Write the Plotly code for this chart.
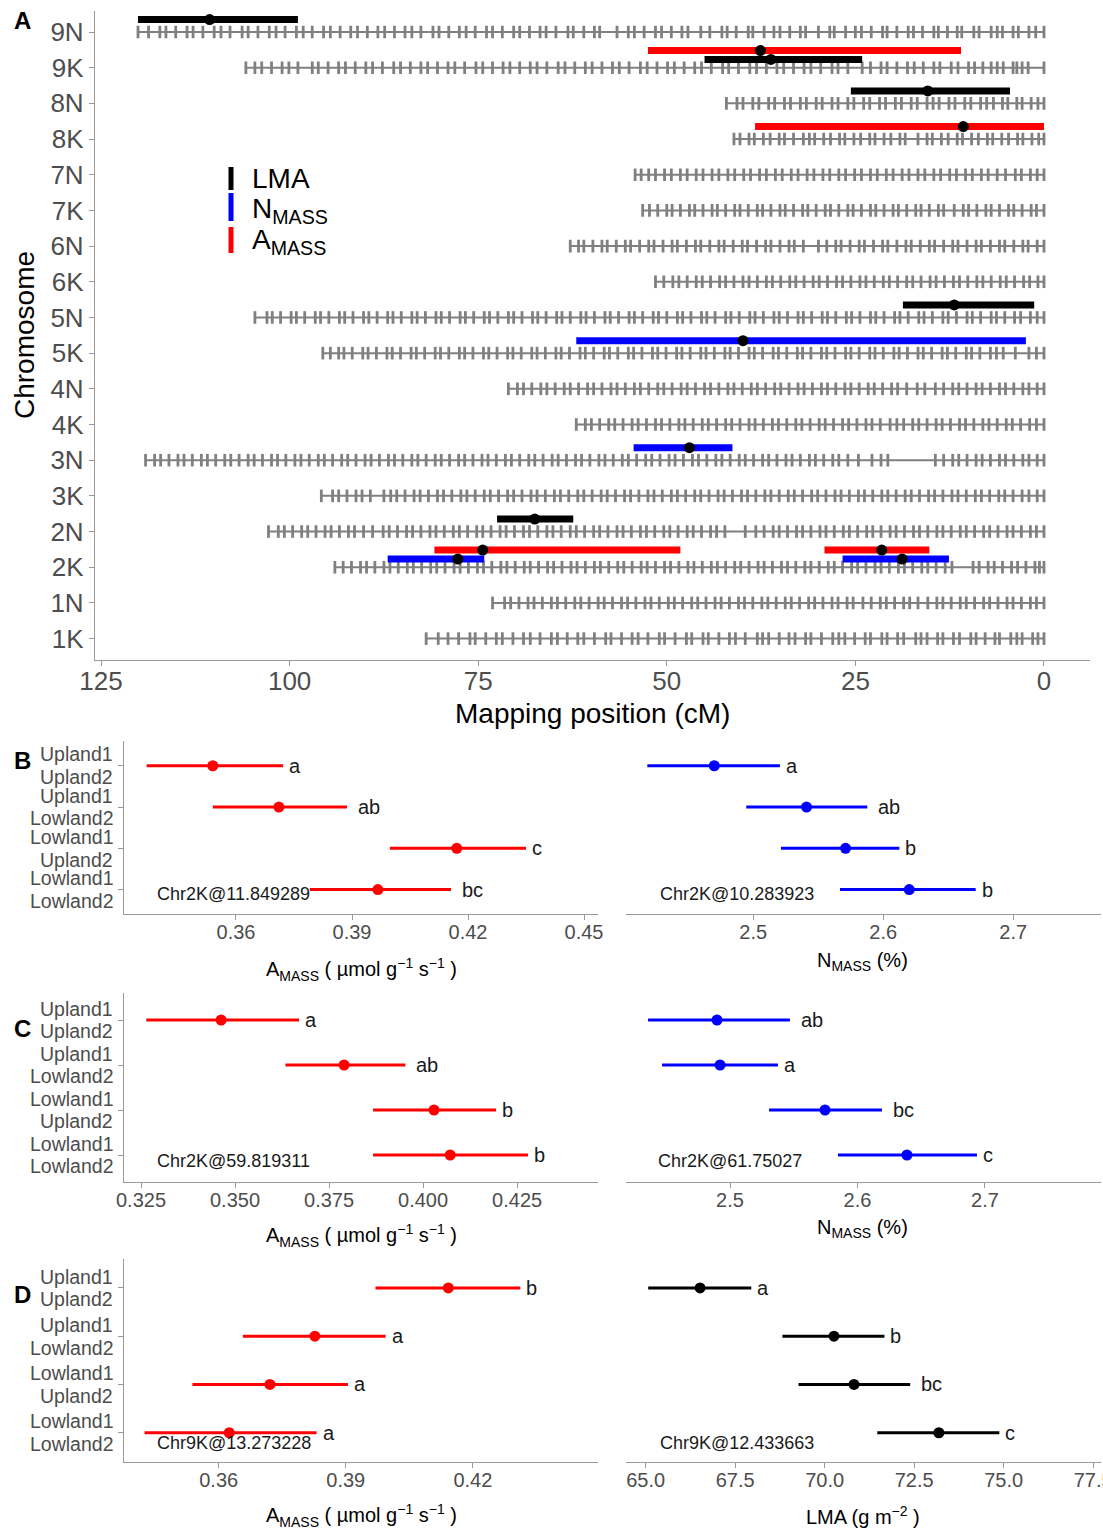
import plotly.graph_objects as go

W, H = 1103, 1533
def px(x): return x / W
def py(y): return 1 - y / H

FONT = "Liberation Sans, Arial, sans-serif"
TICK_COL = "#4D4D4D"
AXIS_COL = "#9A9A9A"
GRAY = "#808080"

# ---------------- Panel A data ----------------
chrom_names = ["1K","1N","2K","2N","3K","3N","4K","4N","5K","5N","6K","6N","7K","7N","8K","8N","9K","9N"]
chrom_len = [81.9, 73.1, 94.0, 102.8, 95.8, 119.1, 62.0, 71.0, 95.6, 104.6, 51.5, 62.8, 53.2, 54.2, 41.1, 42.1, 105.8, 120.1]

m_1K = [0,0.8,1.5,2.9,3.6,4.4,5.9,6.5,7.8,9.0,9.7,11.2,12.0,13.4,14.1,15.5,16.3,17.0,18.6,19.4,20.8,21.5,23.0,23.7,25.1,26.4,27.2,28.0,29.5,30.9,31.6,33.0,33.8,35.1,36.5,37.3,38.0,39.6,40.9,41.7,43.1,44.5,45.2,46.7,47.4,48.9,50.3,51.0,52.5,53.8,54.6,56.0,57.4,58.1,59.6,61.0,61.8,63.2,64.5,65.3,66.8,68.1,69.0,70.4,71.8,72.6,74.0,75.4,76.1,77.6,79.0,80.3,81.9]
m_1N = [0,1.0,1.8,3.0,4.1,4.9,6.1,7.2,8.0,9.2,10.3,11.1,12.3,13.4,14.2,15.4,16.7,17.8,18.6,19.8,20.9,21.7,22.9,24.0,25.3,26.1,27.3,28.1,29.3,30.4,31.2,32.4,33.5,34.3,35.5,36.6,37.4,38.6,39.7,40.5,41.7,42.8,43.6,44.8,45.9,46.7,47.9,49.0,49.8,51.0,52.1,52.9,54.1,55.2,56.0,57.2,58.3,59.1,60.3,61.4,62.2,63.4,64.5,65.3,66.5,67.6,68.4,69.6,70.7,71.5,73.1]
m_2K = [0,0.6,1.2,2.4,3.5,4.3,5.5,6.6,7.4,8.6,9.4,12.2,13.1,14.3,15.4,16.2,17.4,18.5,19.3,20.5,21.6,22.4,23.6,24.7,25.5,26.7,27.8,28.6,29.8,30.9,31.7,32.9,34.0,34.8,36.0,37.1,37.9,39.1,40.2,41.0,42.2,43.3,44.1,45.3,46.4,47.2,48.4,49.5,50.3,51.5,52.6,53.4,54.6,55.7,56.5,57.7,58.8,59.6,60.8,61.9,62.7,63.9,65.0,65.8,67.0,68.1,68.9,70.1,71.2,72.0,73.2,74.3,75.1,76.3,77.4,78.2,79.4,80.5,81.3,82.5,83.6,84.4,85.6,86.7,87.5,88.7,89.8,90.6,91.8,92.9,94.0]
m_2N = [0,1.0,1.8,3.0,4.1,4.9,6.1,7.2,8.0,9.2,10.3,11.1,12.3,13.4,14.2,15.4,16.5,17.3,18.5,19.6,20.4,21.6,22.7,23.5,24.7,25.8,26.6,27.8,28.9,29.7,30.9,32.0,32.8,34.0,35.1,35.9,37.1,38.2,39.6,42.3,43.4,44.2,45.4,46.5,47.3,48.5,49.6,50.4,51.6,52.7,53.5,54.7,55.8,56.6,57.8,58.9,59.7,60.9,62.0,62.8,64.0,65.1,65.9,67.1,68.2,69.0,70.2,71.3,72.1,73.3,74.4,75.2,76.4,77.5,78.3,79.5,80.6,81.4,82.6,83.7,84.5,85.7,86.8,87.6,89.0,90.2,91.4,92.2,93.4,94.5,95.3,96.5,97.6,98.4,99.6,100.7,101.5,102.8]
m_3K = [0,0.9,2.0,2.9,4.1,5.2,6.0,7.2,8.3,9.1,10.3,11.4,12.2,13.4,14.5,15.3,16.5,17.6,18.4,19.6,20.7,21.5,22.7,23.8,24.6,25.8,26.9,27.7,28.9,30.0,30.8,32.0,33.1,33.9,35.1,36.2,37.0,38.2,39.3,40.1,41.3,42.4,43.2,44.4,45.5,46.3,47.5,48.6,49.4,50.6,51.7,52.5,53.7,54.8,55.6,56.8,57.9,58.7,59.9,61.0,61.8,63.0,64.1,64.9,66.1,67.2,68.0,69.2,70.3,71.1,72.3,73.4,74.2,75.4,76.5,77.3,78.5,79.6,80.4,81.6,82.7,83.5,84.7,85.8,86.6,87.5,89.3,90.4,91.2,92.4,93.5,94.3,95.8]
m_3N = [0,0.9,2.0,2.8,4.0,5.1,5.9,7.1,8.2,9.0,10.2,11.3,12.1,13.3,14.4,20.7,21.6,22.8,24.6,26.0,27.2,28.0,29.2,30.3,31.1,32.3,33.4,34.2,35.4,36.5,37.3,38.5,39.6,40.4,41.6,42.7,43.5,44.7,45.8,46.6,47.8,48.9,49.7,50.9,52.0,52.8,54.0,55.1,55.9,57.1,58.2,59.0,60.2,61.3,62.1,63.3,64.4,65.2,66.4,67.5,68.3,69.5,70.6,71.4,72.6,73.7,74.5,75.7,76.8,77.6,78.8,79.9,80.7,81.9,83.0,83.8,85.0,86.1,86.9,88.1,89.2,90.0,91.2,92.3,93.1,94.3,95.4,96.2,97.4,98.5,99.3,100.5,101.6,102.4,103.6,104.7,105.5,106.7,107.8,108.6,109.8,110.9,111.7,112.9,114.0,114.8,116.0,117.1,117.9,119.1]
m_4K = [0,1.0,1.9,3.1,4.2,5.0,6.2,7.3,8.1,9.3,10.4,11.2,12.4,13.5,14.3,15.5,16.6,17.4,18.6,19.5,20.4,21.7,22.8,23.6,24.8,25.9,26.7,27.9,29.0,29.8,31.0,32.1,32.9,34.1,35.2,36.0,37.2,38.3,39.1,40.3,41.4,42.2,43.4,44.5,45.3,46.5,47.6,48.4,49.6,50.7,51.5,52.7,53.8,54.6,55.8,56.9,57.7,58.9,60.0,60.8,62.0]
m_4N = [0,0.9,2.0,2.8,4.0,5.1,5.9,7.1,8.2,9.0,10.2,11.3,12.1,13.3,14.4,15.8,16.8,18.2,19.4,20.2,21.4,22.5,23.3,24.5,25.6,26.4,27.6,28.7,29.5,30.7,31.8,32.6,33.8,34.9,35.7,36.9,38.0,38.8,40.0,41.1,41.9,43.1,44.2,45.0,46.2,47.3,48.1,49.3,50.4,51.2,52.4,53.5,54.3,55.5,56.6,57.4,58.6,59.7,60.5,61.7,62.8,63.6,64.8,65.9,66.7,67.9,69.0,69.8,71.0]
m_5K = [0,1.0,2.0,3.8,5.4,6.3,7.1,8.5,9.6,10.3,11.7,12.8,13.5,14.9,16.0,16.7,18.1,19.2,19.9,21.3,22.4,23.1,24.5,25.6,26.3,27.7,28.8,29.5,30.9,32.0,32.7,34.1,35.2,35.9,37.3,38.4,39.1,40.5,41.6,42.3,43.7,44.8,45.5,46.9,48.0,48.7,50.1,51.2,51.9,53.3,54.4,55.1,56.5,57.6,58.3,59.7,60.8,61.5,62.9,64.0,64.7,66.1,67.2,67.9,69.3,70.4,71.1,72.5,73.6,74.3,75.7,76.8,77.5,78.9,80.0,80.7,82.1,83.2,83.9,85.3,86.4,87.1,88.5,89.6,90.3,91.7,92.8,93.5,94.6,95.6]
m_5N = [0,0.9,1.8,3.1,3.9,5.2,6.3,7.0,8.4,9.5,10.2,11.6,12.7,13.4,14.8,15.9,16.6,18.0,19.1,19.8,21.2,22.3,23.0,24.4,25.5,26.2,27.6,28.7,29.4,30.8,31.9,32.6,34.0,35.1,35.8,37.2,38.3,39.0,40.4,41.5,42.2,43.6,44.7,45.4,46.8,47.9,48.6,50.0,51.1,51.8,53.2,54.3,55.0,56.4,57.5,58.2,59.6,60.7,61.4,62.8,63.9,64.6,66.0,67.1,67.8,69.2,70.3,71.0,72.4,73.5,74.2,75.6,76.7,77.4,78.8,79.9,80.6,82.0,83.1,83.8,85.2,86.3,87.0,88.4,89.5,90.2,91.6,92.7,93.4,94.8,95.9,96.6,98.0,99.1,99.8,101.2,102.3,103.0,104.6]
m_6K = [0,0.8,1.9,2.7,3.9,5.0,5.8,7.0,8.1,8.9,10.1,11.2,12.0,13.2,14.3,15.1,16.3,17.4,18.2,19.4,20.5,21.3,22.5,23.6,24.4,25.6,26.7,27.5,28.7,29.8,30.6,31.8,32.9,33.7,34.9,36.0,36.8,38.0,39.1,39.9,41.1,42.2,43.0,44.2,45.3,46.1,47.3,48.4,49.2,50.4,51.5]
m_6N = [0,0.9,2.1,2.8,4.0,5.2,5.9,7.1,8.3,9.0,10.2,11.4,12.1,13.3,14.5,15.2,16.4,17.6,18.3,19.5,20.7,21.4,22.6,23.8,24.5,25.7,26.9,27.6,28.8,29.9,31.9,33.1,33.8,35.0,36.2,36.9,38.1,39.3,40.0,41.2,42.4,43.1,44.3,45.5,46.2,47.4,48.6,49.3,50.5,51.7,52.4,53.6,54.8,55.5,56.7,57.9,58.6,59.8,61.0,61.7,62.8]
m_7K = [0,1.0,1.7,2.9,4.0,4.7,5.9,7.0,7.7,8.9,10.0,10.7,11.9,13.3,14.0,15.2,16.3,17.0,18.2,19.3,20.0,21.2,22.3,23.0,24.2,25.3,26.0,27.2,28.3,29.0,30.2,31.3,32.0,33.2,34.3,35.0,36.2,37.3,38.0,39.2,40.3,41.0,42.2,43.3,44.0,45.2,46.3,47.0,48.2,49.3,50.0,51.2,52.3,53.2]
m_7N = [0,0.9,1.8,3.0,3.8,5.1,6.2,7.4,8.3,9.5,10.4,11.6,12.5,13.7,14.6,15.8,16.7,17.9,18.8,20.0,20.9,22.1,23.0,24.2,25.1,26.3,27.2,28.4,29.3,30.5,31.4,32.6,33.5,34.7,35.6,36.8,37.7,38.9,39.8,41.0,41.9,43.1,44.0,45.2,46.1,47.3,48.2,49.4,50.3,51.5,52.4,53.4,54.2]
m_8K = [0,0.7,1.6,2.8,3.5,4.7,5.6,6.8,7.5,8.7,9.6,10.8,11.5,12.7,13.6,14.8,15.5,16.7,18.4,19.1,20.3,21.2,22.4,23.1,24.3,25.2,26.4,27.1,28.3,29.2,30.4,31.1,31.9,33.2,34.4,35.1,36.3,37.2,38.4,39.1,40.3,41.1]
m_8N = [0,0.8,1.7,2.9,3.6,4.8,5.5,6.7,7.6,8.4,9.7,10.5,11.8,12.6,13.9,14.7,15.5,16.8,17.6,18.9,19.7,21.0,21.8,23.1,23.9,25.2,26.0,27.3,28.1,29.4,30.2,31.5,32.3,33.6,34.4,35.7,36.5,37.8,38.6,39.9,40.7,42.1]
m_9K = [0,2.1,2.9,3.6,4.1,5.4,6.2,7.0,8.1,9.2,10.0,11.4,12.3,13.8,14.6,16.0,17.2,18.1,19.5,20.8,21.6,23.0,24.1,26.0,27.3,28.1,29.6,30.9,31.8,33.2,34.5,35.4,36.8,38.1,39.0,40.5,41.8,42.6,44.1,45.4,46.3,47.7,49.0,49.9,51.3,52.6,53.5,55.0,56.3,57.2,58.6,59.9,60.8,62.2,63.5,64.4,65.9,67.2,68.1,69.5,70.8,71.7,73.1,74.4,75.3,76.8,78.1,79.0,80.4,81.7,82.6,84.0,85.3,86.2,87.7,89.0,89.9,91.3,92.6,93.5,94.9,96.2,97.0,98.9,100.1,101.0,102.4,103.7,104.6,105.8]
m_9N = [0,1.1,2.0,3.4,4.1,5.5,6.2,7.0,8.6,9.3,10.9,11.5,12.8,14.0,14.6,16.1,17.3,18.0,19.5,20.8,21.4,22.9,24.2,25.0,26.3,27.8,28.4,29.9,31.6,32.3,33.7,35.0,35.8,37.1,38.6,39.2,40.8,42.0,42.7,44.3,45.5,47.2,48.0,49.4,50.7,51.5,53.0,54.3,55.1,56.6,58.9,59.6,61.0,62.4,63.1,64.7,66.0,66.8,68.2,69.5,70.3,71.8,73.1,73.9,75.4,76.6,77.5,78.9,80.2,81.0,82.6,83.8,84.7,86.1,87.4,88.3,89.7,91.0,91.9,93.3,94.6,95.5,97.0,98.2,99.1,100.6,101.8,102.7,104.2,105.5,106.3,107.9,109.1,110.0,111.5,112.8,113.6,115.1,116.4,117.2,118.7,120.1]

chrom_markers = [m_1K, m_1N, m_2K, m_2N, m_3K, m_3N, m_4K, m_4N, m_5K, m_5N,
                 m_6K, m_6N, m_7K, m_7N, m_8K, m_8N, m_9K, m_9N]

qtl_chrom = ["9N", "9K", "9K", "8N", "8K", "5N", "5K", "3N", "2N", "2K", "2K", "2K", "2K"]
qtl_trait = ["LMA", "AMASS", "LMA", "LMA", "AMASS", "LMA", "NMASS", "NMASS", "LMA", "AMASS", "NMASS", "AMASS", "NMASS"]
qtl_peak = [110.6, 37.6, 36.2, 15.4, 10.7, 11.9, 39.9, 47.0, 67.5, 74.4, 77.7, 21.5, 18.8]
qtl_low = [98.9, 11.0, 24.1, 4.5, 0.0, 1.3, 2.4, 41.3, 62.4, 48.2, 74.2, 15.2, 12.6]
qtl_high = [120.1, 52.5, 45.0, 25.6, 38.3, 18.7, 62.0, 54.4, 72.5, 80.8, 87.0, 29.1, 26.7]

trait_color = {"LMA": "#000000", "NMASS": "#0000FF", "AMASS": "#FF0000"}

# ---------------- Panels B-D data ----------------
group_line1 = ["Upland1", "Upland1", "Lowland1", "Lowland1"]
group_line2 = ["Upland2", "Lowland2", "Upland2", "Lowland2"]

B_amass_mean = [0.3540, 0.3711, 0.4171, 0.3967]
B_amass_lo = [0.3369, 0.3540, 0.3998, 0.3791]
B_amass_hi = [0.3722, 0.3887, 0.4350, 0.4156]
B_amass_let = ["a", "ab", "c", "bc"]

B_nmass_mean = [2.470, 2.541, 2.571, 2.620]
B_nmass_lo = [2.4185, 2.4946, 2.5213, 2.5667]
B_nmass_hi = [2.5205, 2.5877, 2.6124, 2.6711]
B_nmass_let = ["a", "ab", "b", "b"]

C_amass_mean = [0.3463, 0.3790, 0.4029, 0.4072]
C_amass_lo = [0.3264, 0.3634, 0.3867, 0.3867]
C_amass_hi = [0.3670, 0.3953, 0.4194, 0.4279]
C_amass_let = ["a", "ab", "b", "b"]

C_nmass_mean = [2.4898, 2.4922, 2.5745, 2.6388]
C_nmass_lo = [2.4357, 2.4467, 2.5306, 2.5847]
C_nmass_hi = [2.5470, 2.5376, 2.6192, 2.6937]
C_nmass_let = ["ab", "a", "bc", "c"]

D_amass_mean = [0.4142, 0.3827, 0.3721, 0.3625]
D_amass_lo = [0.3970, 0.3657, 0.3538, 0.3425]
D_amass_hi = [0.4312, 0.3994, 0.3905, 0.3831]
D_amass_let = ["b", "a", "a", "a"]

D_lma_mean = [66.52, 70.26, 70.82, 73.19]
D_lma_lo = [65.07, 68.82, 69.27, 71.47]
D_lma_hi = [67.95, 71.67, 72.39, 74.88]
D_lma_let = ["a", "b", "bc", "c"]

marker_labels = ["Chr2K@11.849289", "Chr2K@10.283923", "Chr2K@59.819311",
                 "Chr2K@61.75027", "Chr9K@13.273228", "Chr9K@12.433663"]

B_left_ticks = [0.36, 0.39, 0.42, 0.45]
B_right_ticks = [2.5, 2.6, 2.7]
C_left_ticks = [0.325, 0.350, 0.375, 0.400, 0.425]
C_right_ticks = [2.5, 2.6, 2.7]
D_left_ticks = [0.36, 0.39, 0.42]
D_right_ticks = [65.0, 67.5, 70.0, 72.5, 75.0, 77.5]
A_ticks = [125, 100, 75, 50, 25, 0]

fig = go.Figure()

# ---- Panel A: chromosome marker lines ----
for i, (name, L, mk) in enumerate(zip(chrom_names, chrom_len, chrom_markers)):
    fig.add_trace(go.Scatter(x=[0, L], y=[i, i], mode="lines",
                             line=dict(color=GRAY, width=2), hoverinfo="skip",
                             showlegend=False, xaxis="x", yaxis="y"))
    fig.add_trace(go.Scatter(x=mk, y=[i] * len(mk), mode="markers",
                             marker=dict(symbol="line-ns", size=9,
                                         line=dict(color=GRAY, width=2.8)),
                             hoverinfo="skip", showlegend=False, xaxis="x", yaxis="y"))

# ---- Panel A: QTL intervals (dodged above their chromosome) ----
counts = {}
for c in qtl_chrom:
    counts[c] = counts.get(c, 0) + 1

def qtl_offset(c, t):
    if counts[c] == 1:
        return 0.35
    return 0.48 if t == "AMASS" else 0.23

for c, t, lo, hi in zip(qtl_chrom, qtl_trait, qtl_low, qtl_high):
    yy = chrom_names.index(c) + qtl_offset(c, t)
    fig.add_trace(go.Scatter(x=[hi, lo], y=[yy, yy], mode="lines",
                             line=dict(color=trait_color[t], width=7),
                             hoverinfo="skip", showlegend=False, xaxis="x", yaxis="y"))
for c, t, pk in zip(qtl_chrom, qtl_trait, qtl_peak):
    yy = chrom_names.index(c) + qtl_offset(c, t)
    fig.add_trace(go.Scatter(x=[pk], y=[yy], mode="markers",
                             marker=dict(color="#000000", size=11),
                             hoverinfo="skip", showlegend=False, xaxis="x", yaxis="y"))

# ---- Panels B-D ----
yvals = [3, 2, 1, 0]
panels = [
    ("x2", "y2", B_amass_mean, B_amass_lo, B_amass_hi, B_amass_let, "#FF0000"),
    ("x3", "y3", B_nmass_mean, B_nmass_lo, B_nmass_hi, B_nmass_let, "#0000FF"),
    ("x4", "y4", C_amass_mean, C_amass_lo, C_amass_hi, C_amass_let, "#FF0000"),
    ("x5", "y5", C_nmass_mean, C_nmass_lo, C_nmass_hi, C_nmass_let, "#0000FF"),
    ("x6", "y6", D_amass_mean, D_amass_lo, D_amass_hi, D_amass_let, "#FF0000"),
    ("x7", "y7", D_lma_mean, D_lma_lo, D_lma_hi, D_lma_let, "#000000"),
]
annotations = []
for xa, ya, mean, lo, hi, lets, col in panels:
    for m, l, h, yv in zip(mean, lo, hi, yvals):
        fig.add_trace(go.Scatter(x=[l, h], y=[yv, yv], mode="lines",
                                 line=dict(color=col, width=3), hoverinfo="skip",
                                 showlegend=False, xaxis=xa, yaxis=ya))
    fig.add_trace(go.Scatter(x=mean, y=yvals, mode="markers",
                             marker=dict(color=col, size=11), hoverinfo="skip",
                             showlegend=False, xaxis=xa, yaxis=ya))
    for h, yv, lt in zip(hi, yvals, lets):
        annotations.append(dict(x=h, y=yv, xref=xa, yref=ya, text=lt, showarrow=False,
                                xanchor="left", yanchor="middle", xshift=5 * len(lt) - 1,
                                font=dict(family=FONT, size=20, color="#1A1A1A")))

# ---------------- Layout ----------------
def xstyle(**kw):
    d = dict(showline=True, linecolor=AXIS_COL, linewidth=1.3, ticks="outside",
             tickcolor=AXIS_COL, ticklen=5, tickwidth=1.2, showgrid=False, zeroline=False,
             automargin=False, ticklabelstandoff=-5, ticklabeloverflow="allow",
             tickfont=dict(family=FONT, size=20, color=TICK_COL))
    d.update(kw)
    return d

left_x = [px(123.7), px(598)]
right_x = [px(626), px(1101)]
rowB = [py(914.3), py(741)]
rowC = [py(1182), py(993)]
rowD = [py(1461.7), py(1259)]

ylow_left = dict(showline=True, linecolor=AXIS_COL, linewidth=1.3, ticks="outside",
                 tickcolor=AXIS_COL, ticklen=5, tickwidth=1.2, showgrid=False, zeroline=False,
                 automargin=False, range=[-0.6, 3.6], tickvals=yvals, showticklabels=False)
ylow_right = dict(visible=False, range=[-0.6, 3.6], showgrid=False, zeroline=False,
                  automargin=False)

layout = dict(
    width=W, height=H, autosize=False,
    margin=dict(l=0, r=0, t=0, b=0, pad=0),
    paper_bgcolor="white", plot_bgcolor="white",
    font=dict(family=FONT),
    xaxis=xstyle(domain=[px(95), px(1090)], range=[125.8, -6.1], anchor="y",
                 tickvals=A_ticks, ticktext=[str(t) for t in A_ticks], ticklabelstandoff=-7,
                 tickfont=dict(family=FONT, size=26, color=TICK_COL)),
    yaxis=xstyle(domain=[py(660), py(10.6)], range=[-0.6, 17.6], anchor="x",
                 tickvals=list(range(len(chrom_names))), ticktext=chrom_names,
                 ticklabelstandoff=0,
                 tickfont=dict(family=FONT, size=26, color=TICK_COL)),
    xaxis2=xstyle(domain=left_x, range=[0.33096, 0.45362], anchor="y2",
                  tickvals=B_left_ticks, ticktext=["%.2f" % v for v in B_left_ticks]),
    yaxis2=dict(ylow_left, domain=rowB, anchor="x2"),
    xaxis3=xstyle(domain=right_x, range=[2.4021, 2.7675], anchor="y3",
                  tickvals=B_right_ticks, ticktext=["%.1f" % v for v in B_right_ticks]),
    yaxis3=dict(ylow_right, domain=rowB, anchor="x3"),
    xaxis4=xstyle(domain=left_x, range=[0.3204, 0.4465], anchor="y4",
                  tickvals=C_left_ticks, ticktext=["%.3f" % v for v in C_left_ticks]),
    yaxis4=dict(ylow_left, domain=rowC, anchor="x4"),
    xaxis5=xstyle(domain=right_x, range=[2.4184, 2.791], anchor="y5",
                  tickvals=C_right_ticks, ticktext=["%.1f" % v for v in C_right_ticks]),
    yaxis5=dict(ylow_right, domain=rowC, anchor="x5"),
    xaxis6=xstyle(domain=left_x, range=[0.33758, 0.44953], anchor="y6",
                  tickvals=D_left_ticks, ticktext=["%.2f" % v for v in D_left_ticks]),
    yaxis6=dict(ylow_left, domain=rowD, anchor="x6"),
    xaxis7=xstyle(domain=right_x, range=[64.45, 77.72], anchor="y7",
                  tickvals=D_right_ticks, ticktext=["%.1f" % v for v in D_right_ticks]),
    yaxis7=dict(ylow_right, domain=rowD, anchor="x7"),
)

def ann(x, y, text, size, xanchor="center", yanchor="middle", color="#000000", angle=0):
    return dict(x=px(x), y=py(y), xref="paper", yref="paper", text=text, showarrow=False,
                xanchor=xanchor, yanchor=yanchor, textangle=angle,
                font=dict(family=FONT, size=size, color=color))

# two-line group labels on the left panels (drawn as text beside each tick)
for ya in ["y2", "y4", "y6"]:
    for yv, l1, l2 in zip(yvals, group_line1, group_line2):
        for txt, shift in ((l1, 11.3), (l2, -11.3)):
            annotations.append(dict(x=px(114), y=yv, xref="paper", yref=ya, text=txt,
                                    showarrow=False, xanchor="right", yanchor="middle",
                                    yshift=shift, borderpad=0,
                                    font=dict(family=FONT, size=19.5, color=TICK_COL)))

# axis titles
annotations += [
    ann(592, 713, "Mapping position (cM)", 28),
    ann(25, 335, "Chromosome", 28, angle=-90),
    ann(361, 969, "A<sub>MASS</sub> ( µmol g<sup>−1</sup> s<sup>−1</sup> )", 20),
    ann(863, 961, "N<sub>MASS</sub> (%)", 20),
    ann(361, 1235, "A<sub>MASS</sub> ( µmol g<sup>−1</sup> s<sup>−1</sup> )", 20),
    ann(863, 1228, "N<sub>MASS</sub> (%)", 20),
    ann(361, 1515, "A<sub>MASS</sub> ( µmol g<sup>−1</sup> s<sup>−1</sup> )", 20),
    ann(863, 1515, "LMA (g m<sup>−2</sup> )", 20),
]
# panel letters
for lab, yy in zip(["A", "B", "C", "D"], [20, 760, 1028, 1294]):
    annotations.append(ann(22, yy, "<b>%s</b>" % lab, 24))
# marker labels
for lab, (xx, yy) in zip(marker_labels, [(155, 894), (658, 894), (155, 1161),
                                         (656, 1161), (155, 1443), (658, 1443)]):
    annotations.append(ann(xx, yy, lab, 18, xanchor="left", color="#1A1A1A"))
# legend
legend_names = ["LMA", "N<sub>MASS</sub>", "A<sub>MASS</sub>"]
legend_keys = ["LMA", "NMASS", "AMASS"]
shapes = []
for nm, key, (y0, y1), ty in zip(legend_names, legend_keys,
                                 [(167, 190), (193, 221), (227, 253)], [178, 210, 241]):
    shapes.append(dict(type="line", xref="paper", yref="paper", x0=px(231), x1=px(231),
                       y0=py(y0), y1=py(y1), line=dict(color=trait_color[key], width=5)))
    annotations.append(ann(250, ty, nm, 28, xanchor="left"))

layout["annotations"] = annotations
layout["shapes"] = shapes
fig.update_layout(**layout)
fig.write_html("out.html", config={"displayModeBar": False},
               post_script="document.body.style.margin='0';")
